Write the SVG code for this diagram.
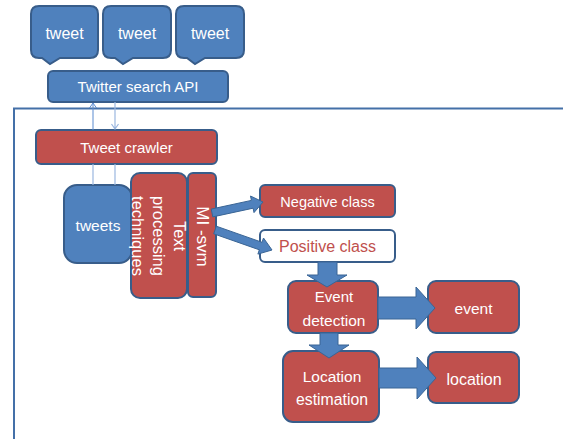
<svg xmlns="http://www.w3.org/2000/svg" width="563" height="439" viewBox="0 0 563 439">
<style>
.b{fill:#4f81bd;stroke:#385d8a;stroke-width:2}
.r{fill:#c0504d;stroke:#385d8a;stroke-width:2}
.w{fill:#ffffff;stroke:#385d8a;stroke-width:2}
.t{font-family:"Liberation Sans",Arial,sans-serif;fill:#ffffff;text-anchor:middle}
.ba{fill:#4f81bd;stroke:#3a6595;stroke-width:1}
.ln{stroke:#5b8bd0;stroke-width:1;fill:none}
.ln2{stroke:#9bb7e0;stroke-width:1.2;fill:none}
</style>
<rect x="14" y="108.5" width="600" height="400" fill="none" stroke="#4470a8" stroke-width="2"/>
<g id="tweet1">
<path class="b" d="M39,6 H90 Q98,6 98,14 V50 Q98,58 90,58 H60 L50,64 L42,58 H39 Q31,58 31,50 V14 Q31,6 39,6 Z"/>
<text class="t" x="64.5" y="39" font-size="16">tweet</text>
</g>
<g id="tweet2">
<path class="b" d="M111,6 H163 Q171,6 171,14 V50 Q171,58 163,58 H133 L123,64 L115,58 H111 Q103,58 103,50 V14 Q103,6 111,6 Z"/>
<text class="t" x="137" y="39" font-size="16">tweet</text>
</g>
<g id="tweet3">
<path class="b" d="M184,6 H236 Q244,6 244,14 V50 Q244,58 236,58 H205 L195,64 L187,58 H184 Q176,58 176,50 V14 Q176,6 184,6 Z"/>
<text class="t" x="210" y="39" font-size="16">tweet</text>
</g>
<g id="api">
<rect class="b" x="48" y="71" width="180" height="31" rx="5"/>
<text class="t" x="138" y="92" font-size="15">Twitter search API</text>
</g>
<g id="crawler">
<rect class="r" x="36" y="130" width="181" height="34" rx="5"/>
<text class="t" x="126.5" y="153" font-size="15">Tweet crawler</text>
</g>
<g id="tweets">
<rect class="b" x="64" y="185" width="68" height="78" rx="13"/>
<text class="t" x="98" y="231" font-size="15.5">tweets</text>
</g>
<g id="textproc">
<rect class="r" x="131" y="173" width="56" height="125" rx="9"/>
<g transform="translate(159,236) rotate(90)">
<text class="t" x="0" y="-15" font-size="16.5">Text</text>
<text class="t" x="0" y="6" font-size="16.5">processing</text>
<text class="t" x="0" y="27" font-size="16.5">techniques</text>
</g>
</g>
<g id="mlsvm">
<rect class="r" x="188" y="173" width="28" height="124" rx="5"/>
<g transform="translate(202,236.5) rotate(90)">
<text class="t" x="0" y="5" font-size="17">MI -svm</text>
</g>
</g>
<g id="negative">
<rect class="r" x="260" y="185" width="135" height="32" rx="5"/>
<text class="t" x="327.5" y="206.5" font-size="14.5">Negative class</text>
</g>
<g id="positive">
<rect class="w" x="260" y="230" width="135" height="32" rx="5"/>
<text class="t" x="327.5" y="252" font-size="16" style="fill:#c0504d">Positive class</text>
</g>
<g id="eventdet">
<rect class="r" x="288" y="281" width="90" height="52" rx="8"/>
<text class="t" x="334" y="302" font-size="15">Event</text>
<text class="t" x="334" y="326" font-size="15.5">detection</text>
</g>
<g id="event">
<rect class="r" x="428" y="281" width="91" height="52" rx="8"/>
<text class="t" x="473.5" y="314" font-size="15.5">event</text>
</g>
<g id="locest">
<rect class="r" x="283" y="351" width="96" height="71" rx="10"/>
<text class="t" x="332" y="382" font-size="15.5">Location</text>
<text class="t" x="332" y="405" font-size="15.8">estimation</text>
</g>
<g id="location">
<rect class="r" x="428" y="352" width="91" height="51" rx="8"/>
<text class="t" x="474" y="385" font-size="16">location</text>
</g>
<g id="connectors">
<path class="ln" d="M93,130 V103 M89.5,108 L93,103 L96.5,108"/>
<path class="ln2" d="M115,102 V129 M111.5,124 L115,129 L118.5,124"/>
<path class="ln2" d="M93,164 V185 M115,164 V185"/>
<polygon class="ba" points="211.2,209.1 251.4,200.4 250.5,196.0 263,202 254.0,212.6 253.1,208.2 212.8,216.9"/>
<polygon class="ba" points="216.3,226.2 262.0,242.3 263.5,238.0 272,250 257.9,254.1 259.3,249.8 213.7,233.8"/>
<polygon class="ba" points="318,262 337,262 337,275 347,275 327,287 307,275 318,275"/>
<polygon class="ba" points="320,333 338,333 338,345 349,345 329,358 309,345 320,345"/>
<polygon class="ba" points="378,297 416,297 416,287 435,308 416,329 416,319 378,319"/>
<polygon class="ba" points="379,368 417,368 417,357 436,378 417,399 417,388 379,388"/>
</g>
</svg>
